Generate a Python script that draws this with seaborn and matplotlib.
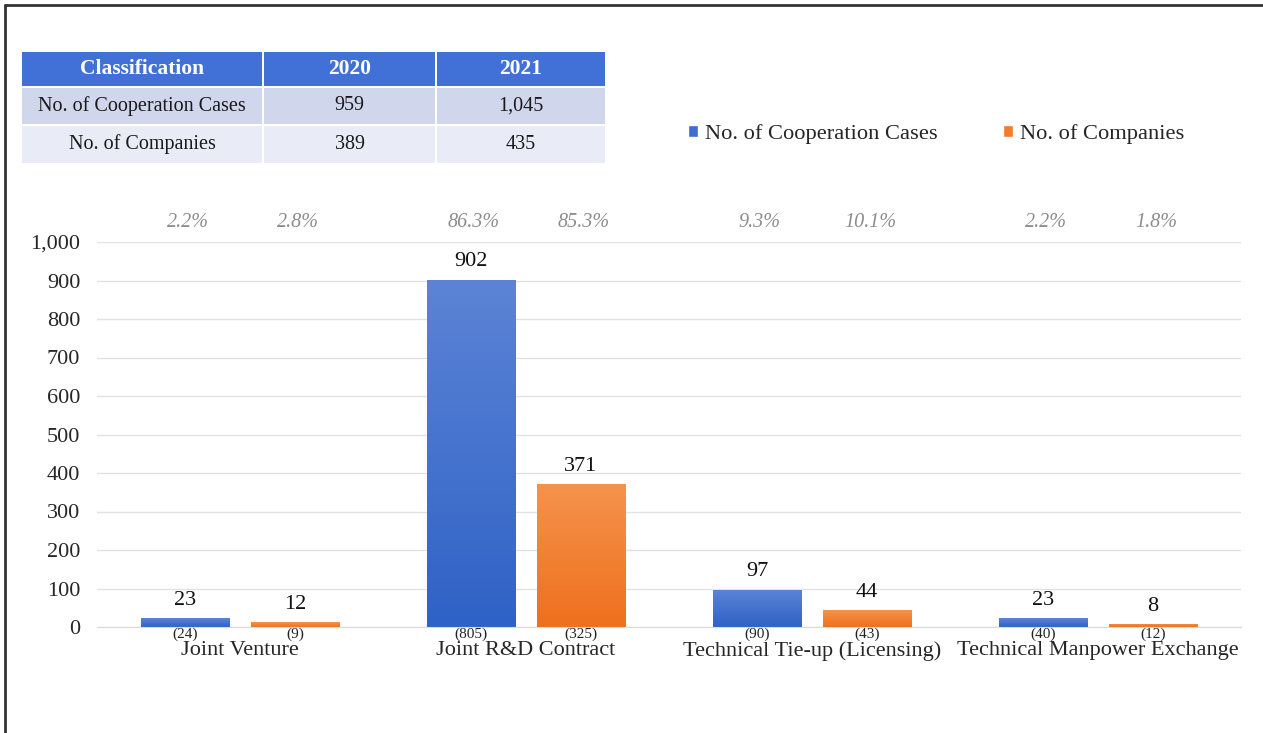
import numpy as np
import pandas as pd
import matplotlib
matplotlib.use("Agg")
import matplotlib.pyplot as plt
import seaborn as sns
from matplotlib.colors import LinearSegmentedColormap
from matplotlib.patches import Rectangle
from matplotlib.ticker import FuncFormatter

# === DATA
categories = ["Joint Venture", "Joint R&D Contract",
              "Technical Tie-up (Licensing)", "Technical Manpower Exchange"]
series = ["No. of Cooperation Cases", "No. of Companies"]
cases_2021 = [23, 902, 97, 23]
companies_2021 = [12, 371, 44, 8]
cases_2020 = [24, 805, 90, 40]
companies_2020 = [9, 325, 43, 12]
cases_share = ["2.2%", "86.3%", "9.3%", "2.2%"]
companies_share = ["2.8%", "85.3%", "10.1%", "1.8%"]

table_header = ["Classification", "2020", "2021"]
table_rows = [["No. of Cooperation Cases", "959", "1,045"],
              ["No. of Companies", "389", "435"]]

df = pd.DataFrame({
    "category": categories * 2,
    "series": [series[0]] * 4 + [series[1]] * 4,
    "value": cases_2021 + companies_2021,
})

sns.set_style("white")
plt.rcParams["font.family"] = ["Liberation Serif", "DejaVu Serif"]

W, H = 1263, 733
fig = plt.figure(figsize=(W / 100, H / 100), dpi=100)
ax = fig.add_axes([97 / W, 1 - 627 / H, (1241 - 97) / W, (627 - 242) / H])

palette = {series[0]: "#3e6ccf", series[1]: "#f27c2c"}
sns.barplot(data=df, x="category", y="value", hue="series", order=categories,
            hue_order=series, palette=palette, saturation=1, width=0.77,
            gap=0.2, ax=ax, legend=True)

ax.set_xlim(-0.5, 3.5)
ax.set_ylim(0, 1000)
ax.set_yticks(range(0, 1001, 100))
ax.yaxis.set_major_formatter(FuncFormatter(lambda v, p: f"{int(v):,}"))
ax.grid(axis="y", color="#e2e2e2", linewidth=1)
ax.set_axisbelow(True)
for s in ["top", "right", "left"]:
    ax.spines[s].set_visible(False)
ax.spines["bottom"].set_color("#d9d9d9")
ax.tick_params(axis="y", length=0, pad=12, labelsize=16)
ax.tick_params(axis="x", length=0, pad=10, labelsize=16)
ax.set_xlabel("")
ax.set_ylabel("")

# gradient fill on bars
grads = [("#2f62c6", "#5c84d6"), ("#ef6f1c", "#f5934d")]
grad = np.linspace(0, 1, 256).reshape(-1, 1)
for cont, (bot, top) in zip(ax.containers, grads):
    cmap = LinearSegmentedColormap.from_list("g", [bot, top])
    for bar in cont:
        x0, w, h = bar.get_x(), bar.get_width(), bar.get_height()
        im = ax.imshow(grad, extent=[x0, x0 + w, 0, h], origin="lower",
                       aspect="auto", cmap=cmap, zorder=bar.get_zorder() + 0.1)
        im.set_clip_path(bar)
ax.set_xlim(-0.5, 3.5)
ax.set_ylim(0, 1000)

# labels on bars
prev_vals = [cases_2020, companies_2020]
shares = [cases_share, companies_share]
for cont, prev, share in zip(ax.containers, prev_vals, shares):
    ax.bar_label(cont, padding=6, fontsize=16, color="#111111")
    for bar, p, s in zip(cont, prev, share):
        xc = bar.get_x() + bar.get_width() / 2
        ax.text(xc, -2, f"({p})", ha="center", va="top", fontsize=11,
                color="#222222", clip_on=False)
        ax.text(xc + 0.01, 1050, s, ha="center", va="center", fontsize=14.5,
                style="italic", color="#8c8c8c", clip_on=False)

# legend
ax.legend(loc="center left", bbox_to_anchor=(688 / W, 1 - 134 / H),
          bbox_transform=fig.transFigure, frameon=False, ncol=2,
          handlelength=0.45, handleheight=0.45, handletextpad=0.3,
          columnspacing=2.9, borderpad=0, borderaxespad=0, fontsize=16.2)

# summary table
tax = fig.add_axes([22 / W, 1 - 163 / H, (605 - 22) / W, (163 - 52) / H])
tax.set_xlim(0, 583)
tax.set_ylim(111, 0)
tax.axis("off")
col_edges = [(0, 240), (242, 413), (415, 583)]
row_edges = [(0, 34), (36, 72), (74, 111)]
row_colors = ["#4170d6", "#d0d6ec", "#e9ecf6"]
rows = [table_header] + table_rows
for r, ((y0, y1), row) in enumerate(zip(row_edges, rows)):
    for (x0, x1), txt in zip(col_edges, row):
        tax.add_patch(Rectangle((x0, y0), x1 - x0, y1 - y0,
                                facecolor=row_colors[r], edgecolor="none"))
        tax.text((x0 + x1) / 2, (y0 + y1) / 2, txt, ha="center", va="center",
                 fontsize=15.5 if r == 0 else 14.5,
                 color="white" if r == 0 else "#1a1a1a",
                 fontweight="bold" if r == 0 else "normal")

# frame lines top and left
fig.add_artist(plt.Line2D([5 / W, 5 / W], [0, 1 - 5 / H], color="#333333", lw=2))
fig.add_artist(plt.Line2D([5 / W, 1], [1 - 5 / H, 1 - 5 / H], color="#333333", lw=2))

fig.savefig("out.png", dpi=100, facecolor="white")
